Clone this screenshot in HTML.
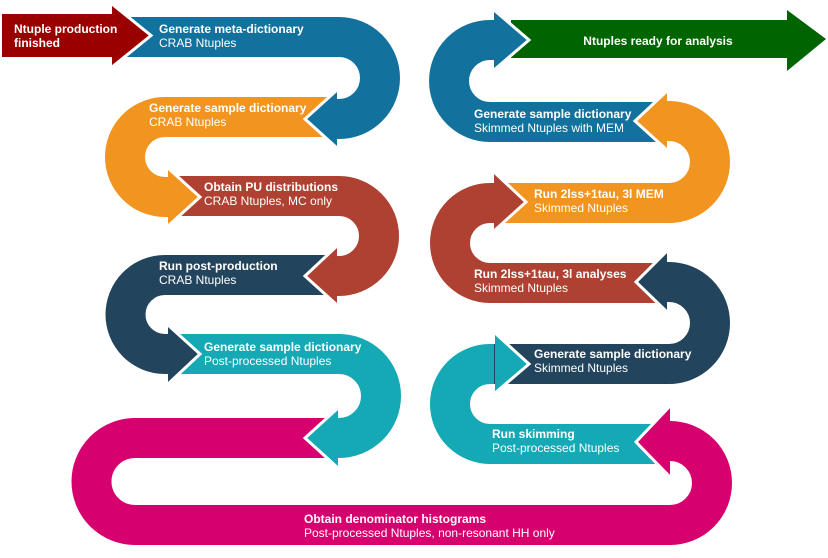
<!DOCTYPE html>
<html><head><meta charset="utf-8"><style>
html,body{margin:0;padding:0;background:#fff;}
svg{display:block;}
text{font-family:"Liberation Sans",sans-serif;font-size:12px;fill:#fff;}
.b{font-weight:bold;}
</style></head><body>
<svg width="828" height="558" viewBox="0 0 828 558" xmlns="http://www.w3.org/2000/svg">
<g fill="none" stroke-width="40" stroke-linecap="butt">
<path d="M112 37 H339 A41 41 0 0 1 339 119 H337" stroke="#13729d"/>
<path d="M337 117 H165 A40 40 0 0 0 165 197 H168" stroke="#f29420"/>
<path d="M168 196 H339 A40 40 0 0 1 339 276 H337" stroke="#ae4132"/>
<path d="M337 275 H165 A39.5 39.5 0 0 0 165 354 H168" stroke="#23445d"/>
<path d="M168 354 H339 A42 42 0 0 1 339 438 H337" stroke="#14a9b5"/>
<path d="M337 438 H135 A43.5 43.5 0 0 0 135 525 H670 A42 42 0 0 0 670 441 H670" stroke="#d6006f"/>
<path d="M670 444 H490 A40 40 0 0 1 490 364 H494" stroke="#14a9b5"/>
<path d="M494 364 H669 A41 41 0 0 0 669 282 H667" stroke="#23445d"/>
<path d="M667 283 H490 A40 40 0 0 1 490 203 H494" stroke="#ae4132"/>
<path d="M494 203 H669 A41 41 0 0 0 669 121 H667" stroke="#f29420"/>
<path d="M667 122 H490 A41 41 0 0 1 490 40 H494" stroke="#13729d"/>
</g>
<rect x="511" y="20" width="277" height="38" fill="#006400"/>
<polygon points="787,10 826,39 787,71" fill="#006400"/>
<rect x="2" y="14" width="111" height="43" fill="#9b0000"/>
<g stroke="#fff" stroke-width="3" stroke-linejoin="miter">
<polygon points="112,4 151,35.5 112,67" fill="#9b0000" stroke="none"/>
<polyline points="112,4 151,35.5 112,67" fill="none"/>
<polygon points="337,90 305,119 337,148" fill="#13729d" stroke="none"/>
<polyline points="337,90 305,119 337,148" fill="none"/>
<polygon points="168,168 200,197 168,226" fill="#f29420" stroke="none"/>
<polyline points="168,168 200,197 168,226" fill="none"/>
<polygon points="337,246 305,276 337,305" fill="#ae4132" stroke="none"/>
<polyline points="337,246 305,276 337,305" fill="none"/>
<polygon points="168,325 200,354 168,384" fill="#23445d" stroke="none"/>
<polyline points="168,325 200,354 168,384" fill="none"/>
<polygon points="338,408 305,438 338,468" fill="#14a9b5" stroke="none"/>
<polyline points="338,408 305,438 338,468" fill="none"/>
<polygon points="670,406 636,442 670,477" fill="#d6006f" stroke="none"/>
<polyline points="670,406 636,442 670,477" fill="none"/>
<polygon points="495,333 529,364 495,393" fill="#14a9b5" stroke="none"/>
<polyline points="495,333 529,364 495,393" fill="none"/>
<polygon points="667,251 636,282 667,312" fill="#23445d" stroke="none"/>
<polyline points="667,251 636,282 667,312" fill="none"/>
<polygon points="494,172 526,202 494,231" fill="#ae4132" stroke="none"/>
<polyline points="494,172 526,202 494,231" fill="none"/>
<polygon points="667,91 635,121 667,150" fill="#f29420" stroke="none"/>
<polyline points="667,91 635,121 667,150" fill="none"/>
<polygon points="494,10 529,40 494,70" fill="#13729d" stroke="none"/>
<polyline points="494,10 529,40 494,70" fill="none"/>
</g>
<text x="14" y="33" class="b">Ntuple production</text>
<text x="14" y="47" class="b">finished</text>
<text x="159" y="33" class="b">Generate meta-dictionary</text>
<text x="159" y="47">CRAB Ntuples</text>
<text x="149" y="112" class="b">Generate sample dictionary</text>
<text x="149" y="126">CRAB Ntuples</text>
<text x="204" y="191" class="b">Obtain PU distributions</text>
<text x="204" y="205">CRAB Ntuples, MC only</text>
<text x="159" y="270" class="b">Run post-production</text>
<text x="159" y="284">CRAB Ntuples</text>
<text x="204" y="351" class="b">Generate sample dictionary</text>
<text x="204" y="365">Post-processed Ntuples</text>
<text x="304" y="523" class="b">Obtain denominator histograms</text>
<text x="304" y="537">Post-processed Ntuples, non-resonant HH only</text>
<text x="658" y="45" class="b" text-anchor="middle">Ntuples ready for analysis</text>
<text x="474" y="118" class="b">Generate sample dictionary</text>
<text x="474" y="132">Skimmed Ntuples with MEM</text>
<text x="534" y="198" class="b">Run 2lss+1tau, 3l MEM</text>
<text x="534" y="212">Skimmed Ntuples</text>
<text x="474" y="278" class="b">Run 2lss+1tau, 3l analyses</text>
<text x="474" y="292">Skimmed Ntuples</text>
<text x="534" y="358" class="b">Generate sample dictionary</text>
<text x="534" y="372">Skimmed Ntuples</text>
<text x="492" y="438" class="b">Run skimming</text>
<text x="492" y="452">Post-processed Ntuples</text>
</svg>
</body></html>
